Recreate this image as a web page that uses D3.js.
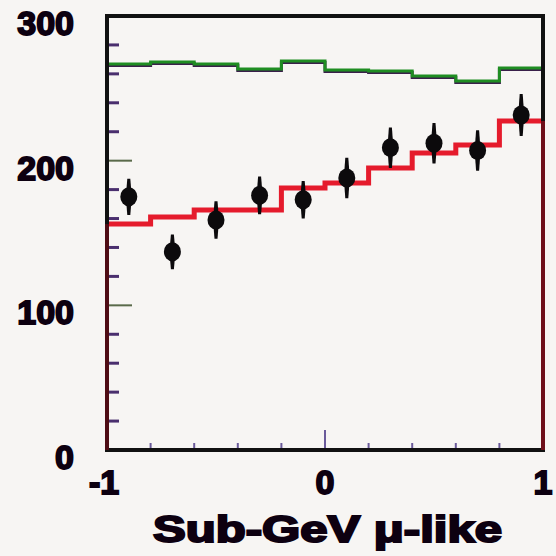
<!DOCTYPE html>
<html>
<head>
<meta charset='utf-8'>
<title>Sub-GeV mu-like</title>
<script src='https://d3js.org/d3.v7.min.js'></script>
<style>
  body { margin: 0; background: #f7f5f3; }
  svg { display: block; }
  text { font-family: "Liberation Sans", Arial, sans-serif; font-weight: bold; }
</style>
</head>
<body>
<div id="container"></div>
<script>

// zenith angle bins (cos theta)
const binEdges = [-1, -0.8, -0.6, -0.4, -0.2, 0, 0.2, 0.4, 0.6, 0.8, 1];
const binCenters = [-0.9, -0.7, -0.5, -0.3, -0.1, 0.1, 0.3, 0.5, 0.7, 0.9];

// MC without oscillation (green), MC with oscillation (red)
const noOscMC = [266.8, 268.2, 266.8, 263.3, 268.9, 262.7, 262, 258.5, 255, 264];
const oscMC = [156.2, 161, 165.9, 165.9, 181.1, 184.6, 194.9, 205.3, 210.8, 227.4];

// data points and errors
const dataVals = [175, 137, 159, 176, 173, 188, 209, 212, 207, 231.6];
const dataErr = [12.5, 12, 13, 13, 13, 14, 14, 14, 14, 14.5];

const yTickLabels = [0, 100, 200, 300];
const xTickLabels = [-1, 0, 1];
const yMinor = [20, 40, 60, 80, 120, 140, 160, 180, 220, 240, 260, 280];
const xMinor = [-0.8, -0.6, -0.4, -0.2, 0.2, 0.4, 0.6, 0.8];

const width = 556, height = 556,
      margin = { top: 16, right: 13, bottom: 106, left: 107 };

const svg = d3.select("#container")
  .append("svg")
  .attr("width", width)
  .attr("height", height)
  .style("background-color", "#f7f5f3");

const x = d3.scaleLinear().domain([-1, 1]).range([margin.left, width - margin.right]);
const y = d3.scaleLinear().domain([0, 300]).range([height - margin.bottom, margin.top]);

// step histograms
function stepPath(vals) {
  const pts = binEdges.map(function(e, i) { return [e, vals[Math.min(i, vals.length - 1)]]; });
  return d3.line()
    .x(function(d) { return x(d[0]); })
    .y(function(d) { return y(d[1]); })
    .curve(d3.curveStepAfter)(pts);
}

svg.append("path")
  .attr("d", stepPath(noOscMC))
  .attr("fill", "none")
  .attr("stroke", "#3a1f4a")
  .attr("stroke-width", 3)
  .attr("transform", "translate(0,1.5)");

svg.append("path")
  .attr("d", stepPath(noOscMC))
  .attr("fill", "none")
  .attr("stroke", "#1f8d22")
  .attr("stroke-width", 3);

svg.append("path")
  .attr("d", stepPath(oscMC))
  .attr("fill", "none")
  .attr("stroke", "#e51b2c")
  .attr("stroke-width", 5);

// minor ticks
const tickColor = "#4a2f6e";
svg.selectAll(".ytick")
  .data(yMinor)
  .enter().append("line")
  .attr("x1", x(-1)).attr("x2", x(-1) + 12)
  .attr("y1", function(d) { return y(d); })
  .attr("y2", function(d) { return y(d); })
  .attr("stroke", tickColor)
  .attr("stroke-width", 3);

svg.selectAll(".ymajor")
  .data([100, 200])
  .enter().append("line")
  .attr("x1", x(-1)).attr("x2", x(-1) + 25)
  .attr("y1", function(d) { return y(d); })
  .attr("y2", function(d) { return y(d); })
  .attr("stroke", "#5a6a4a")
  .attr("stroke-width", 2);

svg.selectAll(".xtick")
  .data(xMinor)
  .enter().append("line")
  .attr("x1", function(d) { return x(d); })
  .attr("x2", function(d) { return x(d); })
  .attr("y1", y(0)).attr("y2", y(0) - 7)
  .attr("stroke", "#6a5a9a")
  .attr("stroke-width", 2);

svg.append("line")
  .attr("x1", x(0)).attr("x2", x(0))
  .attr("y1", y(0)).attr("y2", y(0) - 20)
  .attr("stroke", "#6a5a9a")
  .attr("stroke-width", 2);

// frame
svg.append("rect")
  .attr("x", x(-1)).attr("y", y(300))
  .attr("width", x(1) - x(-1))
  .attr("height", y(0) - y(300))
  .attr("fill", "none")
  .attr("stroke", "#111")
  .attr("stroke-width", 4);

// histogram edges running down the frame sides
svg.append("line")
  .attr("x1", x(-1)).attr("x2", x(-1))
  .attr("y1", y(oscMC[0])).attr("y2", y(0))
  .attr("stroke", "#4e0c14").attr("stroke-width", 4);
svg.append("line")
  .attr("x1", x(1)).attr("x2", x(1))
  .attr("y1", y(oscMC[oscMC.length - 1])).attr("y2", y(0))
  .attr("stroke", "#6e0f1a").attr("stroke-width", 4);

// data points with error bars (tapering, thicker near the marker)
svg.selectAll(".err")
  .data(dataVals)
  .enter().append("path")
  .attr("d", function(d, i) {
    const cx = x(binCenters[i]), top = y(d + dataErr[i]), bot = y(d - dataErr[i]), cy = y(d);
    return "M" + (cx - 1.5) + "," + top + "L" + (cx + 1.5) + "," + top +
           "L" + (cx + 3) + "," + cy + "L" + (cx + 1.5) + "," + bot +
           "L" + (cx - 1.5) + "," + bot + "L" + (cx - 3) + "," + cy + "Z";
  })
  .attr("fill", "#0c0a0c");

svg.selectAll(".pt")
  .data(dataVals)
  .enter().append("ellipse")
  .attr("cx", function(d, i) { return x(binCenters[i]); })
  .attr("cy", function(d) { return y(d); })
  .attr("rx", 8.5)
  .attr("ry", 9.5)
  .attr("fill", "#0c0a0c");

// tick labels
svg.selectAll(".ylab")
  .data(yTickLabels)
  .enter().append("text")
  .attr("x", 74)
  .attr("y", function(d) { return y(d) + 19; })
  .attr("text-anchor", "end")
  .style("font-size", "34px")
  .attr("fill", "#0d0010")
  .attr("stroke", "#0d0010")
  .attr("stroke-width", 1.8)
  .text(function(d) { return d; });

svg.selectAll(".xlab")
  .data(xTickLabels)
  .enter().append("text")
  .attr("x", function(d) { return x(d) - (d < 0 ? 3 : 0); })
  .attr("y", 494)
  .attr("text-anchor", "middle")
  .style("font-size", "34px")
  .attr("fill", "#0d0010")
  .attr("stroke", "#0d0010")
  .attr("stroke-width", 1.8)
  .text(function(d) { return d; });

// axis title
svg.append("text")
  .attr("x", 153)
  .attr("y", 542)
  .attr("textLength", 349)
  .attr("lengthAdjust", "spacingAndGlyphs")
  .style("font-size", "36px")
  .attr("fill", "#0d0010")
  .attr("stroke", "#0d0010")
  .attr("stroke-width", 2)
  .text("Sub-GeV \u03bc-like");

</script>
</body>
</html>
